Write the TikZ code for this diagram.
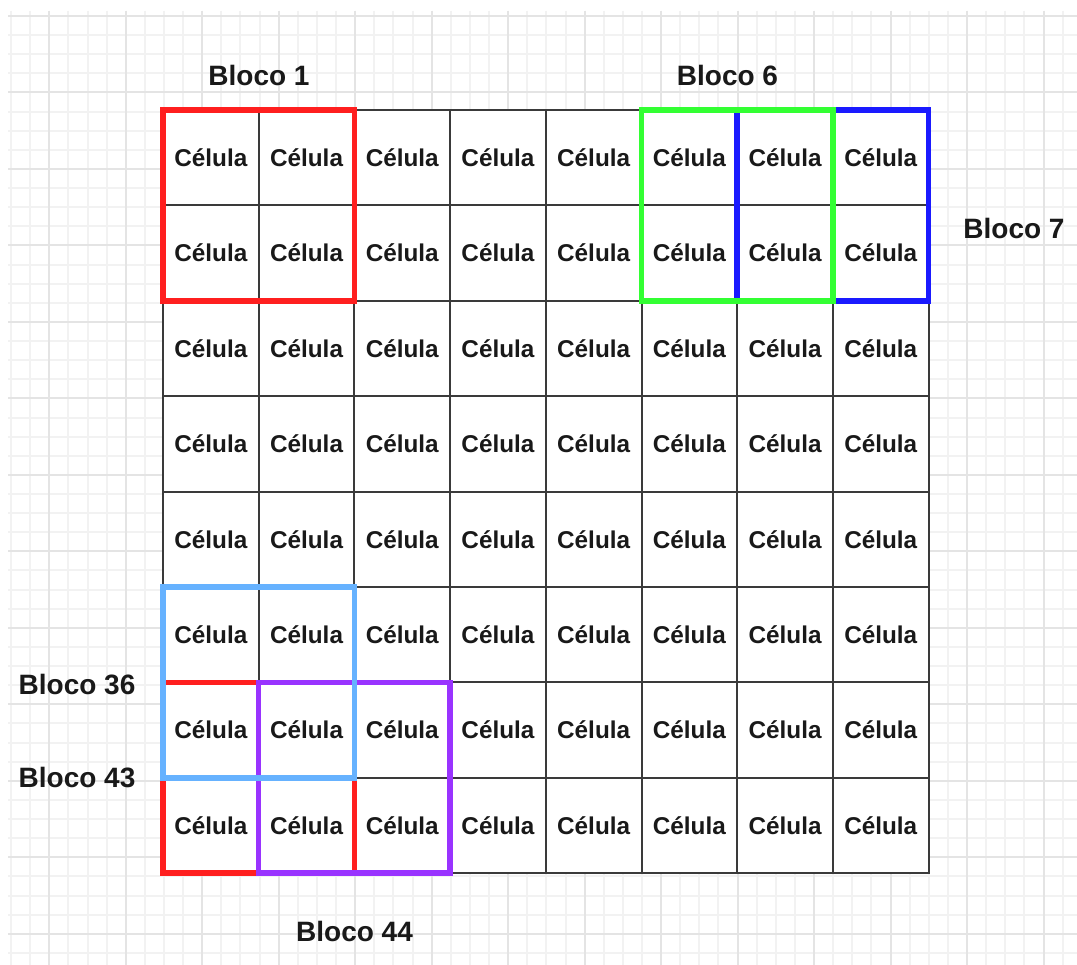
\documentclass[tikz,border=0pt]{standalone}
\usepackage{fontspec}
\setmainfont{Liberation Sans}
\definecolor{gridminor}{HTML}{F2F2F2}
\definecolor{gridmajor}{HTML}{E4E4E4}
\definecolor{cellline}{HTML}{3A3A3A}
\definecolor{bred}{HTML}{FF1F1F}
\definecolor{bgreen}{HTML}{33FF33}
\definecolor{bblue}{HTML}{1A1AFF}
\definecolor{blight}{HTML}{66B2FF}
\definecolor{bpurple}{HTML}{9933FF}
\tikzset{
  cell/.style={draw=cellline, line width=2pt, fill=white, inner sep=0pt, outer sep=0pt,
    minimum width=95.7pt, minimum height=95.4pt,
    font=\fontsize{24.3}{28}\selectfont\bfseries, text=black!90},
  blocklabel/.style={inner sep=0pt, font=\fontsize{28}{32}\selectfont\bfseries, text=black!90},
  blockframe/.style={line width=5.5pt, line join=miter},
  gridline/.style={line width=2pt}
}
\begin{document}
\begin{tikzpicture}[x=1pt, y=-1pt]
  \useasboundingbox (0,0) rectangle (1077,965);
  \fill[white] (0,0) rectangle (1077,965);
  % background drawing grid, snapped to whole units
  \begin{scope}
    \clip (8,11) rectangle (1077,965);
    \foreach \k in {-2,...,54}
      \draw[gridline, gridminor] ({round(49.3+19.12*\k)},11) -- ({round(49.3+19.12*\k)},965);
    \foreach \k in {0,...,49}
      \draw[gridline, gridminor] (8,{round(16+19.12*\k)}) -- (1077,{round(16+19.12*\k)});
    \foreach \k in {0,4,...,52}
      \draw[gridline, gridmajor] ({round(49.3+19.12*\k)},11) -- ({round(49.3+19.12*\k)},965);
    \foreach \k in {0,4,...,48}
      \draw[gridline, gridmajor] (8,{round(16+19.12*\k)}) -- (1077,{round(16+19.12*\k)});
  \end{scope}
  % 8 x 8 cells
  \foreach \r in {0,...,7}
    \foreach \c in {0,...,7}
      \node[cell] (c-\r-\c) at ({163+95.7*\c+47.85},{110+95.4*\r+47.7}) {Célula};
  % block frames
  \draw[blockframe, bred] (c-0-0.north west) rectangle (c-1-1.south east);
  \draw[blockframe, bblue] (c-0-6.north west) rectangle (c-1-7.south east);
  \draw[blockframe, bgreen] (c-0-5.north west) rectangle (c-1-6.south east);
  \draw[blockframe, bred] (c-6-0.north west) rectangle (c-7-1.south east);
  \draw[blockframe, bpurple] (c-6-1.north west) rectangle (c-7-2.south east);
  \draw[blockframe, blight] (c-5-0.north west) rectangle (c-6-1.south east);
  % block labels
  \node[blocklabel] (l1) at (259,75) {Bloco 1};
  \node[blocklabel] (l6) at (727.5,75) {Bloco 6};
  \node[blocklabel] (l7) at (1014,228) {Bloco 7};
  \node[blocklabel] (l36) at (77,685) {Bloco 36};
  \node[blocklabel] (l43) at (77,778) {Bloco 43};
  \node[blocklabel] (l44) at (354.5,931) {Bloco 44};
\end{tikzpicture}
\end{document}
